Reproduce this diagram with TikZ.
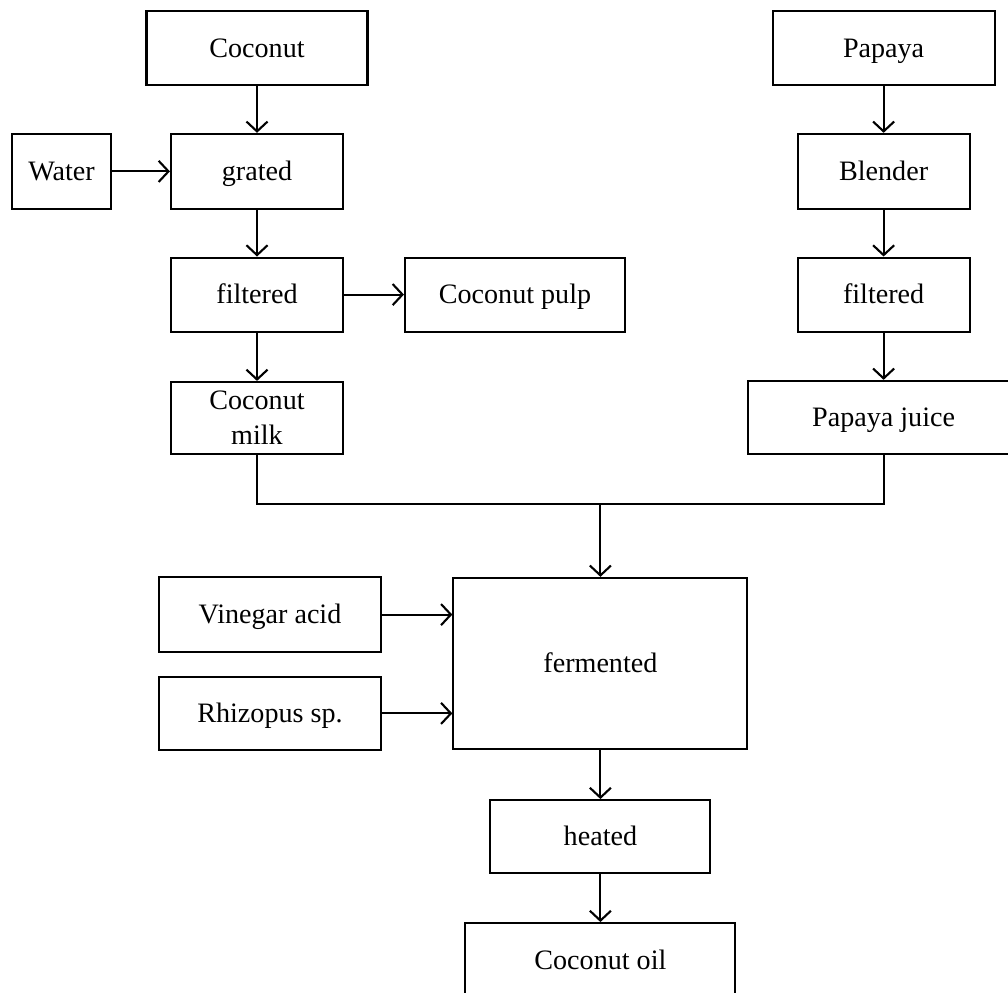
\documentclass[tikz,border=0pt]{standalone}
\usepackage{fontspec}
\setmainfont{Liberation Serif}
\usetikzlibrary{positioning,arrows.meta}

\begin{document}
\begin{tikzpicture}[font=\fontsize{20}{25}\selectfont,line width=1.5pt,
      box2/.style={draw,align=center,inner sep=2pt,minimum height=1.85cm,minimum width=4.3cm},
      box/.style={box2,text height=13.5pt,text depth=0.5pt},
      arr/.style={-{Straight Barb[length=7pt,width=15pt]}}]
      \useasboundingbox (0,0) rectangle (25.2,24.825);
      \clip (0,0) rectangle (25.2,24.825);
      \node[box,minimum width=5.525cm] (coco) at (6.425,23.625) {Coconut};
      \node[box,minimum width=5.55cm] (papa) at (22.09,23.625) {Papaya};
      \node[box,minimum width=2.475cm,minimum height=1.875cm] (water) at (1.54,20.54) {Water};
      \node[box,minimum height=1.875cm] (grat) at (6.425,20.54) {grated};
      \node[box,minimum height=1.875cm] (blend) at (22.09,20.54) {Blender};
      \node[box] (filtl) at (6.425,17.46) {filtered};
      \node[box,minimum width=5.5cm] (pulp) at (12.875,17.46) {Coconut pulp};
      \node[box] (filtr) at (22.09,17.46) {filtered};
      \node[box2,minimum height=1.8cm] (milk) at (6.425,14.375) {Coconut\\milk};
      \node[box,minimum width=6.8cm,minimum height=1.825cm] (juice) at (22.09,14.39) {Papaya juice};
      \coordinate (join) at (15.01,12.225);
      \node[box,minimum width=7.35cm,minimum height=4.275cm] (ferm) at (15.01,8.24) {fermented};
      \node[box,minimum width=5.55cm,minimum height=1.875cm] (vin) at (6.75,9.46) {Vinegar acid};
      \node[box,minimum width=5.55cm,minimum height=1.825cm] (rhiz) at (6.75,6.99) {Rhizopus sp.};
      \node[box,minimum width=5.5cm,minimum height=1.825cm] (heat) at (15.01,3.91) {heated};
      \node[box,minimum width=6.75cm,minimum height=1.875cm] (oil) at (15.01,0.81) {Coconut oil};
      % left and right columns
      \draw[arr] (coco)--(grat);
      \draw[arr] (water)--(grat);
      \draw[arr] (grat)--(filtl);
      \draw[arr] (filtl)--(pulp);
      \draw[arr] (filtl)--(milk);
      \draw[arr] (papa)--(blend);
      \draw[arr] (blend)--(filtr);
      \draw[arr] (filtr)--(juice);
      % merge
      \draw (milk.south) |- (join) -| (juice.south);
      \draw[arr] (join)--(ferm);
      \foreach \s in {vin,rhiz} \draw[arr] (\s.east)--(\s.east -| ferm.west);
      \draw[arr] (ferm)--(heat);
      \draw[arr] (heat)--(oil);
    \end{tikzpicture}
\end{document}
